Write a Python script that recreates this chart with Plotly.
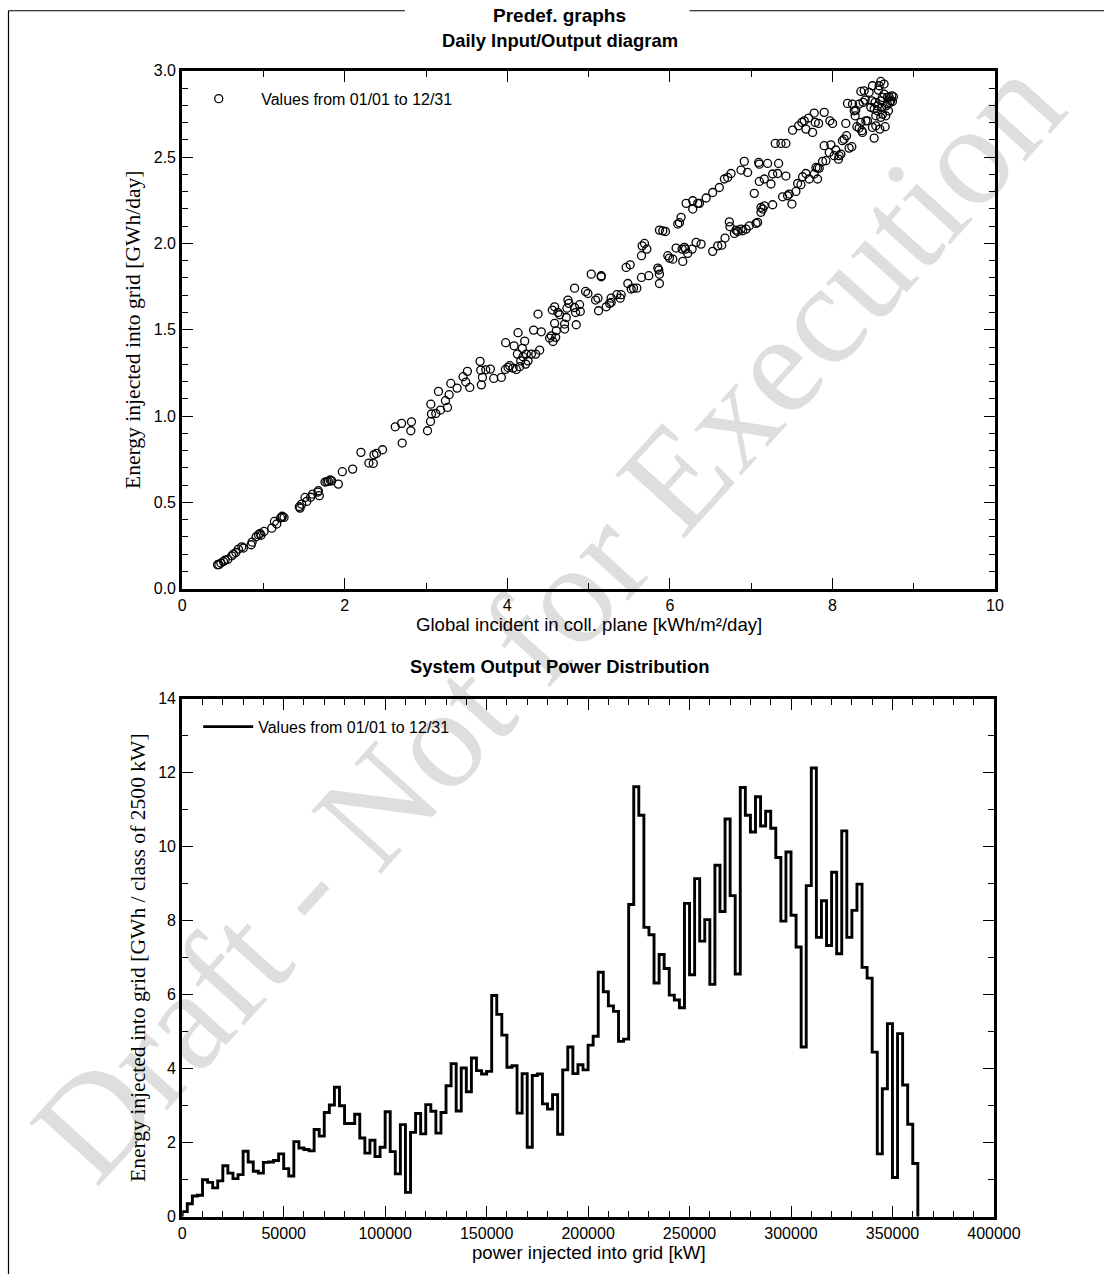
import plotly.graph_objects as go

# ---------------- DATA ----------------
# Daily Input/Output diagram: global incident irradiation [kWh/m²/day] vs energy to grid [GWh/day]
GLOBAL_INC = [
    0.434, 0.475, 0.508, 0.528, 0.610, 0.631, 0.692, 0.733, 0.753, 0.848,
    0.909, 0.938, 0.958, 1.007, 1.102, 1.134, 1.163, 1.229, 1.253, 1.441,
    1.450, 1.511, 1.532, 1.605, 1.675, 1.687, 1.757, 1.798, 1.839, 1.921,
    1.970, 2.097, 2.199, 2.297, 2.351, 2.359, 2.391, 2.465, 2.621, 2.699,
    2.707, 2.821, 2.813, 3.018, 3.055, 3.059, 3.067, 3.120, 3.153, 3.178,
    3.239, 3.264, 3.284, 3.305, 3.382, 3.456, 3.489, 3.509, 3.538, 3.665,
    3.673, 3.681, 3.694, 3.735, 3.792, 3.833, 3.927, 3.976, 3.980, 4.009,
    4.029, 4.070, 4.083, 4.111, 4.132, 4.124, 4.152, 4.165, 4.185, 4.193,
    4.214, 4.226, 4.255, 4.234, 4.296, 4.324, 4.349, 4.378, 4.398, 4.418,
    4.521, 4.541, 4.554, 4.562, 4.582, 4.582, 4.595, 4.603, 4.623,
    0.45, 0.56, 0.66, 0.86, 0.97, 1.21, 1.23, 1.47, 1.58, 1.67, 1.82, 1.78,
    4.644, 4.705, 4.705, 4.726, 4.734, 4.746, 4.758, 4.828, 4.828, 4.848,
    4.840, 4.898, 4.889, 4.963, 4.992, 5.033, 5.086, 5.115, 5.123, 5.156,
    5.156, 5.217, 5.258, 5.278, 5.278, 5.348, 5.389, 5.401, 5.462, 5.483,
    5.512, 5.524, 5.553, 5.594, 5.651, 5.651, 5.659, 5.688, 5.717, 5.741,
    5.852, 5.864, 5.872, 5.872, 5.872, 5.913, 5.946, 5.975, 5.995, 6.036,
    6.077, 6.097, 6.118, 6.138, 6.151, 6.159, 6.179, 6.192, 6.220, 6.274,
    6.323, 6.384, 6.200, 6.282, 6.282, 6.343, 6.364, 6.446, 6.527, 6.527,
    6.589, 6.609, 6.638, 6.671, 6.679, 6.712, 6.732, 6.740, 6.753, 6.794,
    6.814, 6.835, 6.876, 6.876, 6.896, 6.916, 6.937, 6.957, 6.978, 7.039,
    7.060, 7.080, 7.093, 7.101, 7.121, 7.101, 7.121, 7.142, 7.162, 7.162,
    7.203, 7.244, 7.265, 7.265, 7.297, 7.326, 7.338, 7.367, 7.387, 7.428,
    7.428, 7.449, 7.469, 7.502, 7.510, 7.551, 7.572, 7.584, 7.613, 7.625,
    7.633, 7.654, 7.674, 7.674, 7.707, 7.715, 7.756, 7.776, 7.776, 7.789,
    7.797, 7.817, 7.817, 7.830, 7.838, 7.879, 7.899, 7.899, 7.920, 7.961,
    7.969, 7.981, 8.002, 8.022, 8.042, 8.075, 8.083, 8.104, 8.124, 8.145,
    8.165, 8.174, 8.186, 8.206, 8.239, 8.247, 8.268, 8.280, 8.288, 8.301,
    8.329, 8.329, 8.350, 8.350, 8.362, 8.370, 8.378, 8.391, 8.403, 8.411,
    8.432, 8.452, 8.473, 8.485, 8.493, 8.493, 8.514, 8.514, 8.526, 8.534,
    8.554, 8.567, 8.575, 8.583, 8.595, 8.595, 8.608, 8.616, 8.616, 8.636,
    8.636, 8.649, 8.657, 8.665, 8.677, 8.690, 8.698, 8.706, 8.718, 8.731,
    8.739, 8.751, 8.595, 8.554, 8.534, 8.677,
]
E_GRID_DAY = [
    0.139, 0.149, 0.158, 0.166, 0.191, 0.201, 0.230, 0.243, 0.236, 0.255,
    0.301, 0.313, 0.320, 0.332, 0.351, 0.390, 0.375, 0.413, 0.413, 0.475,
    0.467, 0.529, 0.506, 0.548, 0.568, 0.539, 0.618, 0.622, 0.625, 0.606,
    0.678, 0.693, 0.790, 0.728, 0.726, 0.776, 0.784, 0.805, 0.938, 0.958,
    0.844, 0.967, 0.915, 0.915, 0.969, 1.069, 1.012, 1.015, 1.143, 1.035,
    1.089, 1.050, 1.124, 1.189, 1.162, 1.228, 1.197, 1.259, 1.166, 1.317,
    1.266, 1.181, 1.224, 1.268, 1.272, 1.218, 1.224, 1.270, 1.425, 1.282,
    1.292, 1.278, 1.407, 1.270, 1.483, 1.359, 1.286, 1.320, 1.392, 1.344,
    1.434, 1.301, 1.320, 1.359, 1.359, 1.498, 1.359, 1.591, 1.382, 1.488,
    1.452, 1.465, 1.614, 1.432, 1.633, 1.537, 1.456, 1.494, 1.600,
    0.14, 0.17, 0.21, 0.27, 0.31, 0.41, 0.42, 0.49, 0.53, 0.56, 0.63, 0.62,
    1.587, 1.533, 1.504, 1.571, 1.625, 1.672, 1.653, 1.741, 1.629, 1.529,
    1.600, 1.606, 1.645, 1.722, 1.710, 1.822, 1.672, 1.683, 1.610, 1.813,
    1.807, 1.633, 1.653, 1.658, 1.683, 1.703, 1.683, 1.703, 1.861, 1.768,
    1.876, 1.736, 1.741, 1.741, 1.929, 1.803, 1.986, 2.000, 1.967, 1.813,
    1.857, 1.846, 1.822, 1.768, 2.077, 2.073, 2.069, 1.929, 1.915, 1.909,
    1.973, 2.112, 2.120, 2.151, 1.967, 1.896, 1.977, 1.967, 1.942, 1.967,
    2.006, 1.996, 2.232, 2.247, 2.199, 2.232, 2.232, 2.263, 2.295, 1.954,
    1.986, 2.324, 1.990, 2.373, 2.031, 2.382, 2.125, 2.097, 2.405, 2.058,
    2.077, 2.069, 2.425, 2.083, 2.073, 2.475, 2.083, 2.411, 2.102, 2.290,
    2.116, 2.122, 2.469, 2.459, 2.180, 2.359, 2.208, 2.199, 2.373, 2.218,
    2.463, 2.344, 2.402, 2.224, 2.579, 2.405, 2.463, 2.579, 2.270, 2.579,
    2.390, 2.276, 2.286, 2.228, 2.656, 2.301, 2.347, 2.681, 2.340, 2.701,
    2.386, 2.710, 2.662, 2.405, 2.726, 2.373, 2.643, 2.755, 2.402, 2.701,
    2.440, 2.436, 2.373, 2.695, 2.436, 2.475, 2.566, 2.759, 2.479, 2.527,
    2.710, 2.571, 2.695, 2.508, 2.541, 2.488, 2.508, 2.517, 2.595, 2.604,
    2.695, 2.624, 2.811, 2.552, 2.560, 2.807, 2.768, 2.739, 2.772, 2.676,
    2.807, 2.668, 2.880, 2.701, 2.653, 2.643, 2.817, 2.884, 2.830, 2.710,
    2.710, 2.875, 2.788, 2.826, 2.913, 2.672, 2.610, 2.778, 2.817, 2.681,
    2.768, 2.888, 2.913, 2.662, 2.938, 2.826, 2.788, 2.749, 2.846, 2.865,
    2.923, 2.676, 2.739, 2.797, 2.846, 2.768, 2.849, 2.817, 2.826, 2.855,
    2.822, 2.849, 2.730, 2.797, 2.739, 2.807,
]

# System Output Power Distribution: energy per class of 2500 kW [GWh], classes from 0 kW
CLASS_WIDTH_KW = 2500
E_PER_CLASS = [
    0.14, 0.35, 0.56, 0.58, 1.00, 0.93, 0.78, 0.97, 1.38, 1.18,
    1.03, 1.14, 1.77, 1.48, 1.23, 1.18, 1.47, 1.48, 1.52, 1.70,
    1.30, 1.10, 2.03, 1.86, 1.82, 1.78, 2.36, 2.18, 2.82, 3.02,
    3.50, 3.00, 2.52, 2.52, 2.77, 2.13, 1.72, 2.07, 1.63, 1.88,
    2.84, 1.76, 1.16, 2.49, 0.66, 2.28, 2.79, 2.24, 3.03, 2.85,
    2.26, 2.82, 3.54, 4.14, 2.86, 4.02, 3.38, 4.29, 3.95, 3.86,
    3.93, 5.98, 5.47, 4.91, 4.04, 4.08, 2.80, 3.87, 1.88, 3.82,
    3.86, 3.05, 2.91, 3.30, 2.23, 3.97, 4.59, 3.87, 4.11, 3.97,
    4.64, 4.88, 6.61, 6.08, 5.70, 5.55, 4.74, 4.80, 8.44, 11.62,
    10.85, 7.82, 7.62, 6.32, 7.09, 6.71, 5.99, 5.86, 5.65, 8.47,
    6.54, 9.14, 7.45, 8.03, 6.28, 9.50, 8.25, 10.75, 8.68, 6.56,
    11.60, 10.85, 10.40, 11.35, 10.56, 10.96, 10.50, 9.71, 7.99, 9.86,
    8.15, 7.29, 4.59, 8.95, 12.13, 7.55, 8.54, 7.33, 9.31, 7.11,
    10.43, 7.55, 8.28, 8.99, 6.74, 6.45, 4.45, 1.70, 3.46, 5.22,
    1.06, 4.95, 3.56, 2.50, 1.44,
]

LEGEND_TEXT = "Values from 01/01 to 12/31"

# ---------------- FIGURE ----------------
# layout helpers: positions are given in page pixels and converted to paper fractions
SX, SY = 0.9741, 0.98674
CX, CY = 3.5, 7.25
W, H = 1130, 1284
SANS = "Liberation Sans, Arial, sans-serif"
SERIF = "Liberation Serif, Times New Roman, serif"


def px(x):
    return ((x - CX) / SX) / W


def py(y):
    return 1 - ((y - CY) / SY) / H


# step outline of the distribution
edges = [i * CLASS_WIDTH_KW for i in range(len(E_PER_CLASS) + 1)]
step_x = [edges[0]] + edges[:-1] + [edges[-1]]
step_y = [0] + E_PER_CLASS + [0]

fig = go.Figure()
fig.add_trace(go.Scatter(
    x=GLOBAL_INC, y=E_GRID_DAY, mode="markers", name=LEGEND_TEXT,
    marker=dict(symbol="circle-open", size=8, color="black", line=dict(width=1.3, color="black")),
    xaxis="x", yaxis="y", legend="legend", cliponaxis=False,
))
fig.add_trace(go.Scatter(
    x=step_x, y=step_y, mode="lines", name=LEGEND_TEXT, line_shape="hv",
    line=dict(color="black", width=2.9),
    xaxis="x2", yaxis="y2", legend="legend2",
))

axis_common = dict(
    showline=True, linewidth=3, linecolor="black", mirror="ticks",
    ticks="inside", ticklen=11, tickwidth=1.3, tickcolor="black",
    showgrid=False, zeroline=False,
    tickfont=dict(family=SANS, size=16, color="black"),
)
minor_common = dict(ticks="inside", ticklen=6, tickwidth=1.2, tickcolor="black")

fig.update_layout(
    width=W, height=H, autosize=False,
    margin=dict(l=0, r=0, t=0, b=0),
    paper_bgcolor="white", plot_bgcolor="rgba(0,0,0,0)",
    showlegend=True,
    xaxis=dict(domain=[px(182), px(996)], anchor="y", range=[0, 10], dtick=2, tick0=0,
               minor=dict(dtick=1, **minor_common), **axis_common),
    yaxis=dict(domain=[py(588), py(70)], anchor="x", range=[0, 3], dtick=0.5, tick0=0,
               tickformat=".1f", minor=dict(dtick=0.1, **minor_common), **axis_common),
    xaxis2=dict(domain=[px(182), px(995)], anchor="y2", range=[0, 400000], dtick=50000, tick0=0,
                tickformat="d", minor=dict(dtick=10000, **minor_common), **axis_common),
    yaxis2=dict(domain=[py(1216), py(698)], anchor="x2", range=[0, 14], dtick=2, tick0=0,
                minor=dict(dtick=1, **minor_common), **axis_common),
    legend=dict(x=px(176), y=py(98), xanchor="left", yanchor="middle",
                bgcolor="rgba(0,0,0,0)", font=dict(family=SANS, size=16, color="black"),
                itemwidth=75),
    legend2=dict(x=px(198), y=py(726), xanchor="left", yanchor="middle",
                 bgcolor="rgba(0,0,0,0)", font=dict(family=SANS, size=16, color="black"),
                 itemwidth=50),
)

# watermark (behind the data)
fig.add_shape(
    type="line", xref="paper", yref="paper",
    x0=px(12), y0=py(1185), x1=px(1060), y1=py(28),
    line=dict(color="rgba(0,0,0,0)", width=1), layer="below",
    label=dict(text="Draft - Not for Execution", textposition="middle", yanchor="middle",
               font=dict(family=SERIF, size=143, color="#dedede")),
)

# page frame
frame = dict(type="line", xref="paper", yref="paper", line=dict(color="black", width=1.2))
fig.add_shape(x0=px(8), y0=py(1280), x1=px(8), y1=py(10), **frame)
fig.add_shape(x0=px(8), y0=py(10), x1=px(405), y1=py(10), **frame)
fig.add_shape(x0=px(690), y0=py(10), x1=px(1110), y1=py(10), **frame)


def note(text, x, y, font, angle=0):
    fig.add_annotation(text=text, x=px(x), y=py(y), xref="paper", yref="paper",
                       showarrow=False, font=font, textangle=angle,
                       xanchor="center", yanchor="middle")


# titles
note("<b>Predef. graphs</b>", 560, 15, dict(family=SANS, size=19, color="black"))
note("<b>Daily Input/Output diagram</b>", 560, 40, dict(family=SANS, size=18.4, color="black"))
note("<b>System Output Power Distribution</b>", 560, 666, dict(family=SANS, size=18.4, color="black"))

# axis titles
note("Global incident in coll. plane [kWh/m²/day]", 589, 624, dict(family=SANS, size=18.6, color="black"))
note("Energy injected into grid [GWh/day]", 132, 329, dict(family=SERIF, size=21.6, color="black"), -90)
note("power injected into grid [kW]", 589, 1252, dict(family=SANS, size=18.6, color="black"))
note("Energy injected into grid [GWh / class of 2500 kW]", 137, 957,
     dict(family=SERIF, size=21.6, color="black"), -90)

fig.write_html("out.html", config={"displayModeBar": False},
               post_script="document.body.style.margin='0px';")
